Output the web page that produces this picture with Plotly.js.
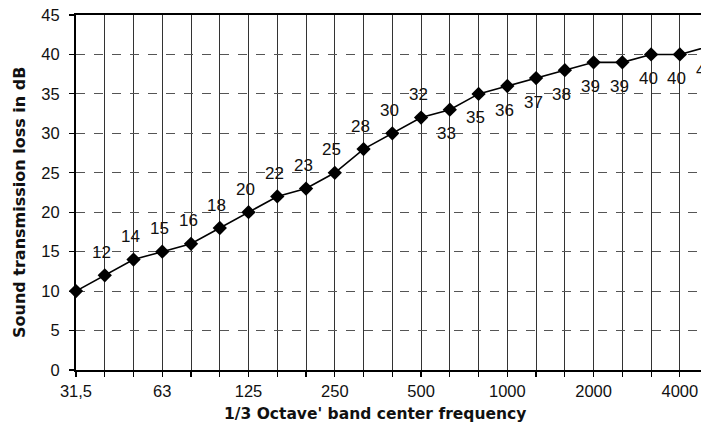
<!DOCTYPE html>
<html>
<head>
<meta charset="utf-8">
<script src="https://cdn.plot.ly/plotly-3.0.1.min.js"></script>
<style>
html, body { margin: 0; padding: 0; overflow: hidden; background: #fff; }
#chart { width: 733px; height: 425px; }
</style>
</head>
<body>
<div id="chart"></div>
<script>
// 1/3 octave band centre frequencies (Hz)
const bands = ["31,5","40","50","63","80","100","125","160","200","250","315","400","500","630","800","1000","1250","1600","2000","2500","3150","4000","5000"];
// tick labels shown under the axis
const shownLabels = ["31,5","63","125","250","500","1000","2000","4000"];
// sound transmission loss (dB)
const loss = [10,12,14,15,16,18,20,22,23,25,28,30,32,33,35,36,37,38,39,39,40,40,41];
// value labels printed next to the points ("" = not printed)
const pointLabels = ["","12","14","15","16","18","20","22","23","25","28","30","32","33","35","36","37","38","39","39","40","40","41"];

const idx = bands.map((b, i) => i);
const ticktext = bands.map(b => shownLabels.includes(b) ? b : "");

const font = "Liberation Sans, Arial, sans-serif";
const titleFont = "DejaVu Sans, sans-serif";

const trace = {
  x: idx,
  y: loss,
  mode: "lines+markers",
  type: "scatter",
  line: { color: "#000", width: 1.6 },
  marker: { symbol: "diamond", size: 11, color: "#000" },
  cliponaxis: false,
  hoverinfo: "skip"
};

// value labels: above the curve for the lower bands, below it for the upper bands
const annotations = [];
pointLabels.forEach((t, i) => {
  if (!t) return;
  const above = i <= 12;
  annotations.push({
    x: idx[i], y: loss[i], xref: "x", yref: "y",
    text: t, showarrow: false,
    xshift: -3, yshift: above ? 23 : -24,
    font: { family: font, size: 17, color: "#111" }
  });
});
annotations.push({
  xref: "paper", yref: "paper", x: 0.5, y: 0, xanchor: "center", yanchor: "middle",
  xshift: 375 - (76 + 647 / 2), yshift: -(414 - 370),
  text: "<b>1/3 Octave' band center frequency</b>", showarrow: false,
  font: { family: titleFont, size: 15.5, color: "#111" }
});
annotations.push({
  xref: "paper", yref: "paper", x: 0, y: 0.5, xanchor: "center", yanchor: "middle",
  xshift: -(76 - 19), yshift: (192.5 - 203),
  textangle: -90,
  text: "<b>Sound transmission loss in dB</b>", showarrow: false,
  font: { family: titleFont, size: 16, color: "#111" }
});

const layout = {
  width: 733,
  height: 425,
  margin: { l: 76, r: 10, t: 15, b: 55 },
  paper_bgcolor: "#fff",
  plot_bgcolor: "#fff",
  showlegend: false,
  font: { family: font, color: "#111" },
  annotations: annotations,
  xaxis: {
    type: "linear",
    range: [0, 22.5],
    tickmode: "array",
    tickvals: idx,
    ticktext: ticktext,
    ticks: "outside",
    ticklen: 5,
    tickwidth: 1.2,
    tickcolor: "#000",
    tickfont: { family: font, size: 16.5, color: "#111" },
    showgrid: true,
    gridcolor: "#333",
    gridwidth: 1,
    showline: true,
    linecolor: "#000",
    linewidth: 2,
    mirror: true,
    zeroline: false
  },
  yaxis: {
    range: [0, 45],
    tickmode: "array",
    tickvals: [0,5,10,15,20,25,30,35,40,45],
    ticks: "outside",
    ticklen: 5,
    tickwidth: 1.2,
    tickcolor: "#000",
    ticklabelstandoff: 6,
    tickfont: { family: font, size: 16.5, color: "#111" },
    showgrid: true,
    gridcolor: "#555",
    gridwidth: 1,
    griddash: "dash",
    showline: true,
    linecolor: "#000",
    linewidth: 2,
    mirror: true,
    zeroline: false
  }
};

Plotly.newPlot("chart", [trace], layout, { displayModeBar: false, staticPlot: true });
</script>
</body>
</html>
